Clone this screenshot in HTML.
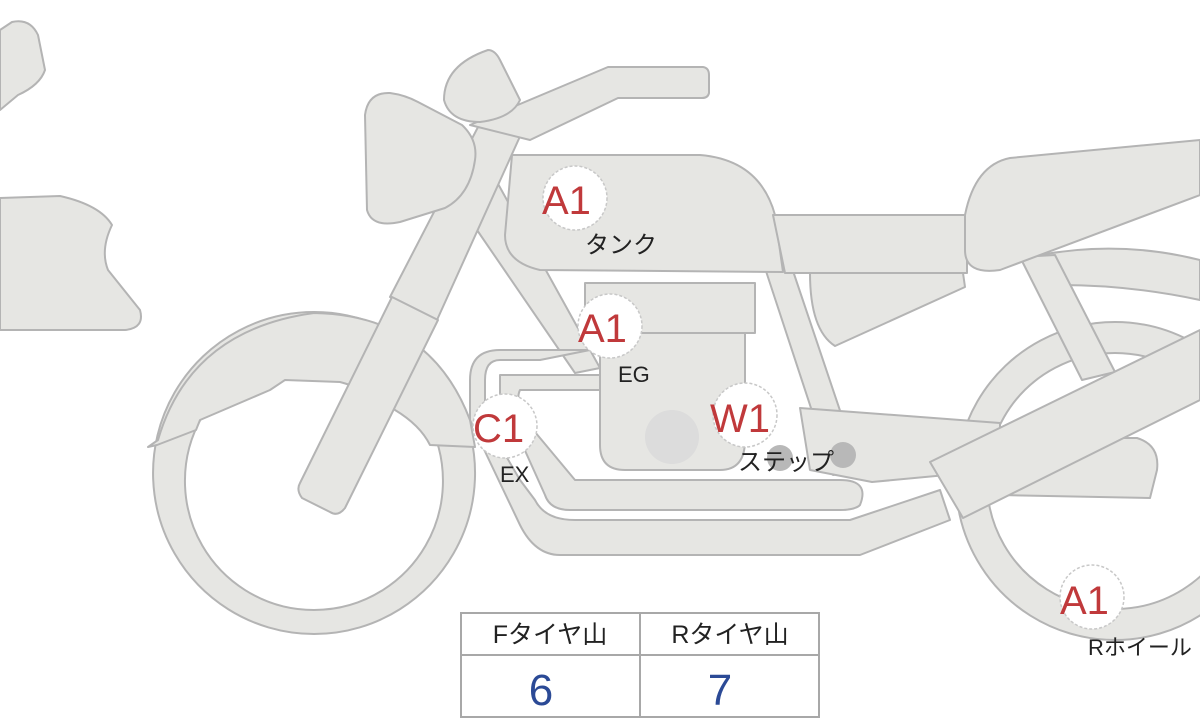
<!DOCTYPE html>
<html><head><meta charset="utf-8"><style>
html,body{margin:0;padding:0;background:#fff;width:1200px;height:720px;overflow:hidden}
svg{display:block}
.s{fill:#e6e6e3;stroke:#b4b4b4;stroke-width:2;stroke-linejoin:round}
.lbl{font-family:"Liberation Sans","Noto Sans CJK JP",sans-serif;fill:#222;font-size:22px}
.code{font-family:"Liberation Sans",sans-serif;fill:#c0393b;font-size:40px}
</style></head><body>
<svg width="1200" height="720" viewBox="0 0 1200 720">
<!-- left partial shapes -->
<path class="s" d="M0,30 L12,22 Q30,18 38,35 L45,70 Q40,85 18,95 L0,110 Z"/>
<path class="s" d="M0,198 L60,196 Q100,205 112,225 Q100,250 108,270 L140,310 Q145,328 125,330 L0,330 Z"/>
<!-- rear wheel -->
<path class="s" fill-rule="evenodd" d="M1115,322 a159,159 0 1,0 0.1,0 Z M1115,353 a128,128 0 1,1 -0.1,0 Z"/>
<!-- rear fender -->
<path class="s" d="M1040,255 Q1120,240 1200,260 L1200,300 Q1130,285 1060,285 Z"/>
<!-- front wheel -->
<path class="s" fill-rule="evenodd" d="M314,312 a161,161 0 1,0 0.1,0 Z M314,352 a129,129 0 1,1 -0.1,0 Z"/>
<!-- front fender -->
<path class="s" d="M148,447 L158,440 Q190,330 314,313 Q430,315 470,420 L475,447 L430,445 Q420,425 395,410 Q370,390 340,382 L285,380 L270,390 L200,420 L196,430 L157,445 Z"/>
<!-- frame tubes -->
<path class="s" d="M1020,257 L1055,255 L1115,372 L1082,380 Z"/>
<!-- under-seat side cover -->
<path class="s" d="M810,273 L963,273 L965,287 L835,346 Q810,330 810,273 Z"/>
<path class="s" d="M477,230 L497,182 L600,368 L575,373 Z"/>
<path class="s" d="M763,262 L790,262 L860,470 L833,475 Z"/>
<!-- exhaust pipes -->
<path class="s" d="M540,360 L500,360 Q485,360 485,380 L485,420 L520,480 L535,500 Q545,520 575,520 L850,520 L940,490 L950,520 L860,555 L560,555 Q535,555 520,525 L470,420 L470,380 Q470,350 500,350 L590,350 Z"/>
<path class="s" d="M500,375 L600,375 L600,390 L520,390 Q515,400 525,420 L575,480 L840,480 Q870,480 860,505 Q855,510 840,510 L570,510 Q550,510 545,495 L500,395 Z"/>
<!-- footpeg bar -->
<path class="s" d="M800,408 L1000,423 L1000,470 L872,482 L810,470 Z"/>
<path class="s" d="M1000,438 L1137,438 Q1160,445 1157,470 L1150,498 L1000,495 Z"/>
<!-- swingarm -->
<path class="s" d="M930,462 L1200,330 L1200,400 L963,518 Z"/>
<!-- engine -->
<path class="s" d="M600,330 L745,330 L745,440 Q745,470 720,470 L625,470 Q600,470 600,445 Z"/>
<rect class="s" x="585" y="283" width="170" height="50"/>
<circle cx="672" cy="437" r="27" fill="#dcdcdc"/>
<!-- tank -->
<path class="s" d="M512,155 L700,155 Q760,160 775,215 L783,272 L540,270 Q505,262 505,235 Z"/>
<!-- seat -->
<path class="s" d="M773,215 L967,215 L967,273 L785,273 Z"/>
<path class="s" d="M965,215 Q975,165 1010,158 L1200,140 L1200,195 L1000,270 Q965,275 965,250 Z"/>
<!-- fork upper tube -->
<path class="s" d="M390,297 L478,127 L522,132 L437,320 Z"/>
<!-- fork lower -->
<path class="s" d="M392,297 L438,320 L345,508 Q338,517 330,512 L302,498 Q296,490 300,483 Z"/>
<!-- handlebar -->
<path class="s" d="M470,125 L608,67 L703,67 Q709,68 709,75 L709,93 Q708,98 702,98 L618,98 L530,140 Z"/>
<!-- headlight -->
<path class="s" d="M390,93 Q405,95 418,102 L462,125 Q478,140 475,160 Q470,195 445,208 L400,222 Q372,228 367,210 L365,115 Q368,92 390,93 Z"/>
<!-- gauge -->
<path class="s" d="M488,50 Q495,50 500,60 L520,100 Q512,118 480,122 Q450,122 444,100 Q444,65 488,50 Z"/>
<!-- steps -->
<circle cx="780" cy="458" r="13" fill="#b8b8b8"/>
<circle cx="843" cy="455" r="13" fill="#b8b8b8"/>
<!-- label circles -->
<g fill="#fff" stroke="#c8c8c8" stroke-width="1.5" stroke-dasharray="3,2">
<circle cx="575" cy="198" r="32"/>
<circle cx="610" cy="326" r="32"/>
<circle cx="505" cy="426" r="32"/>
<circle cx="745" cy="415" r="32"/>
<circle cx="1092" cy="597" r="32"/>
</g>
<text class="code" x="542" y="214">A1</text>
<text class="code" x="578" y="342">A1</text>
<text class="code" x="473" y="442">C1</text>
<text class="code" x="710" y="432">W1</text>
<text class="code" x="1060" y="614">A1</text>
<text class="lbl" x="585" y="253" style="font-size:24px">タンク</text>
<text class="lbl" x="618" y="382">EG</text>
<text class="lbl" x="500" y="482">EX</text>
<text class="lbl" x="738" y="470" style="font-size:24px">ステップ</text>
<text class="lbl" x="1088" y="655">Rホイール</text>
<!-- table -->
<rect x="461" y="613" width="358" height="104" fill="#fff" stroke="#a8a8a8" stroke-width="2"/>
<line x1="461" y1="655" x2="819" y2="655" stroke="#a8a8a8" stroke-width="2"/>
<line x1="640" y1="613" x2="640" y2="717" stroke="#a8a8a8" stroke-width="2"/>
<text class="lbl" x="550" y="643" text-anchor="middle" style="font-size:25px">Fタイヤ山</text>
<text class="lbl" x="730" y="643" text-anchor="middle" style="font-size:25px">Rタイヤ山</text>
<text x="541" y="705" text-anchor="middle" font-family="Liberation Sans,sans-serif" font-size="44" fill="#2b4a96">6</text>
<text x="720" y="705" text-anchor="middle" font-family="Liberation Sans,sans-serif" font-size="44" fill="#2b4a96">7</text>
</svg>
</body></html>
